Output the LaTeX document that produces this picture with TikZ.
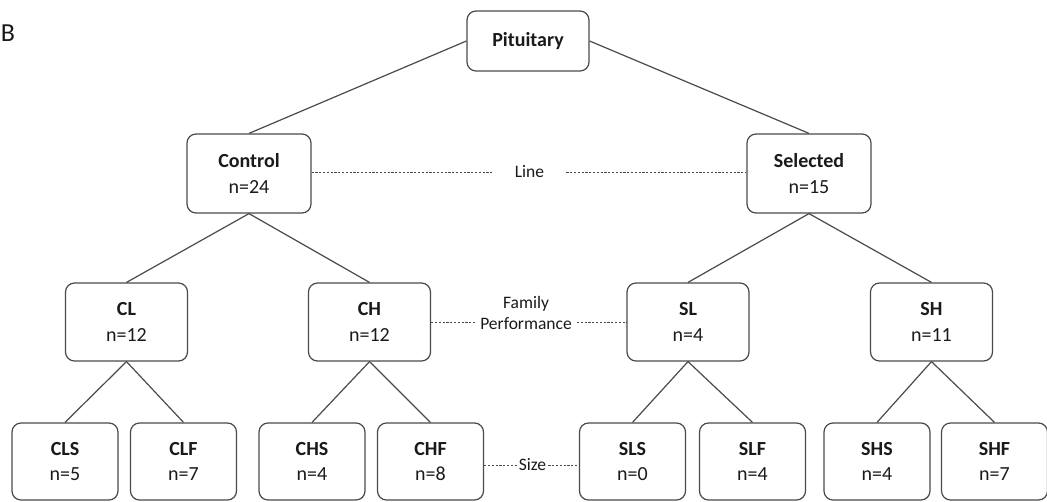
\documentclass[tikz,border=0pt]{standalone}
\usepackage{fontspec}
\setmainfont{Carlito}
\definecolor{boxgray}{HTML}{4A4A4A}
\definecolor{textc}{HTML}{1A1A1A}
\tikzset{
  box/.style={draw=boxgray, line width=1.2pt, rounded corners=9pt, fill=white,
    align=center, font=\fontsize{20}{25.5}\selectfont, inner sep=0pt, text=textc},
  topbox/.style={box, minimum width=122pt, minimum height=60pt},
  midbox/.style={box, minimum width=124pt, minimum height=79pt},
  lvlbox/.style={box, minimum width=122pt, minimum height=78pt},
  leafbox/.style={box, minimum width=106pt, minimum height=77pt},
  conn/.style={draw=boxgray, line width=1.2pt},
  dline/.style={draw=boxgray, line width=0.9pt, dash pattern=on 2.2pt off 1.6pt},
  lab/.style={font=\fontsize{17.5}{21}\selectfont, align=center, text=textc, inner ysep=0pt}
}
\begin{document}
\begin{tikzpicture}[x=1pt, y=-1pt]
\useasboundingbox (0,0) rectangle (1047,501);
\node[font=\fontsize{26}{30}\selectfont, text=textc, inner sep=0pt] (blabel) at (8,33) {B};

\node[topbox] (pit) at (528,41) {\textbf{Pituitary}};
\node[midbox] (ctrl) at (249,173.5) {\textbf{Control}\\n=24};
\node[midbox] (sel) at (809,173.5) {\textbf{Selected}\\n=15};

\node[lvlbox] (cl) at (126.5,322) {\textbf{CL}\\n=12};
\node[lvlbox] (ch) at (369.5,322) {\textbf{CH}\\n=12};
\node[lvlbox] (sl) at (688,322) {\textbf{SL}\\n=4};
\node[lvlbox] (sh) at (931.5,322) {\textbf{SH}\\n=11};

\node[leafbox] (cls) at (65,461.5) {\textbf{CLS}\\n=5};
\node[leafbox] (clf) at (183.5,461.5) {\textbf{CLF}\\n=7};
\node[leafbox] (chs) at (312,461.5) {\textbf{CHS}\\n=4};
\node[leafbox] (chf) at (430.5,461.5) {\textbf{CHF}\\n=8};
\node[leafbox] (sls) at (632.5,461.5) {\textbf{SLS}\\n=0};
\node[leafbox] (slf) at (752.5,461.5) {\textbf{SLF}\\n=4};
\node[leafbox] (shs) at (877,461.5) {\textbf{SHS}\\n=4};
\node[leafbox] (shf) at (994.5,461.5) {\textbf{SHF}\\n=7};

% tree connectors
\draw[conn] (pit.west) -- (ctrl.north);
\draw[conn] (pit.east) -- (sel.north);
\draw[conn] (ctrl.south) -- (cl.north);
\draw[conn] (ctrl.south) -- (ch.north);
\draw[conn] (sel.south) -- (sl.north);
\draw[conn] (sel.south) -- (sh.north);
\draw[conn] (cl.south) -- (cls.north);
\draw[conn] (cl.south) -- (clf.north);
\draw[conn] (ch.south) -- (chs.north);
\draw[conn] (ch.south) -- (chf.north);
\draw[conn] (sl.south) -- (sls.north);
\draw[conn] (sl.south) -- (slf.north);
\draw[conn] (sh.south) -- (shs.north);
\draw[conn] (sh.south) -- (shf.north);

% level labels
\node[lab, inner xsep=22pt] (linelab) at (529.5,172) {Line};
\node[lab, inner xsep=5pt] (fplab) at (526,312.5) {Family\\Performance};
\node[lab, inner xsep=2pt] (sizelab) at (532.5,465) {Size};

\draw[dline] (ctrl.east |- linelab.west) -- (linelab.west);
\draw[dline] (linelab.east) -- (sel.west |- linelab.east);
\draw[dline] (ch.east) -- (ch.east -| fplab.west);
\draw[dline] (sl.west -| fplab.east) -- (sl.west);
\draw[dline] (chf.east |- sizelab.west) -- (sizelab.west);
\draw[dline] (sizelab.east) -- (sls.west |- sizelab.east);
\end{tikzpicture}
\end{document}
